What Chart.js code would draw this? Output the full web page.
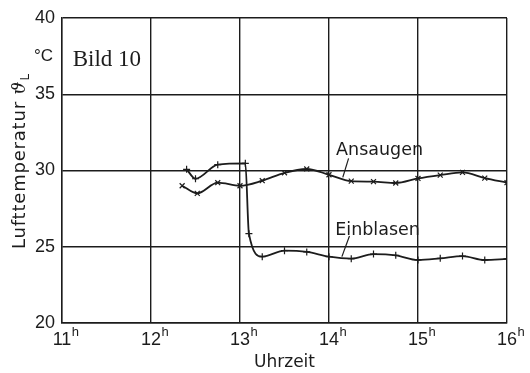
<!DOCTYPE html>
<html>
<head>
<meta charset="utf-8">
<script src="https://cdn.jsdelivr.net/npm/chart.js@4.4.0/dist/chart.umd.min.js"></script>
<style>
  html, body { margin: 0; padding: 0; background: #fff; }
  canvas { display: block; }
</style>
</head>
<body>
<canvas id="c" width="530" height="373"></canvas>
<script>
// Axis ticks
const hourTicks = [11, 12, 13, 14, 15, 16];
const tempTicks = [20, 25, 30, 35, 40];

// Intake air ("Ansaugen"), time in hours, temperature in °C
const ansaugenTime = [12.35, 12.52, 12.75, 13.0, 13.25, 13.5, 13.75, 14.0, 14.25, 14.5, 14.75, 15.0, 15.25, 15.5, 15.75, 16.0];
const ansaugenTemp = [29.0, 28.5, 29.2, 29.0, 29.33, 29.85, 30.1, 29.72, 29.3, 29.27, 29.18, 29.48, 29.7, 29.88, 29.5, 29.2];

// Supply air ("Einblasen")
const einblasenTime = [12.4, 12.5, 12.75, 13.06, 13.1, 13.25, 13.5, 13.75, 14.0, 14.25, 14.5, 14.75, 15.0, 15.25, 15.5, 15.75, 16.0];
const einblasenTemp = [30.08, 29.46, 30.38, 30.47, 25.86, 24.35, 24.74, 24.66, 24.35, 24.22, 24.52, 24.44, 24.13, 24.24, 24.39, 24.13, 24.2];

const pairs = (xs, ys) => xs.map((x, i) => ({ x: x, y: ys[i] }));

const INK = '#1c1c1c';
const SANS = '"DejaVu Sans", sans-serif';
const NUM = '"Liberation Sans", Arial, sans-serif';

// Curve captions with their leader lines, in data units (hours, °C)
const captions = [
  { text: 'Ansaugen',  t: 14.08, v: 31.02, from: [14.22, 30.80], to: [14.155, 29.55] },
  { text: 'Einblasen', t: 14.07, v: 25.77, from: [14.23, 25.70], to: [14.145, 24.35] }
];

const extras = {
  id: 'extras',
  afterDraw(chart) {
    const ctx = chart.ctx;
    const xs = chart.scales.x, ys = chart.scales.y;
    const area = chart.chartArea;
    ctx.save();
    ctx.fillStyle = INK;
    ctx.strokeStyle = INK;

    // Figure number
    ctx.font = '23px "Liberation Serif", "Times New Roman", serif';
    ctx.textAlign = 'left';
    ctx.textBaseline = 'alphabetic';
    ctx.fillText('Bild 10', xs.getPixelForValue(11.12), ys.getPixelForValue(36.85));

    // Unit beside the temperature ticks
    ctx.font = '17px ' + NUM;
    ctx.textAlign = 'right';
    ctx.textBaseline = 'middle';
    ctx.fillText('°C', area.left - 9, ys.getPixelForValue(37.5));

    // Hour superscripts on the time ticks
    ctx.font = '18px ' + NUM;
    const widths = hourTicks.map(h => ctx.measureText(String(h)).width);
    ctx.font = '13px ' + NUM;
    ctx.textAlign = 'left';
    ctx.textBaseline = 'top';
    hourTicks.forEach((h, i) => {
      ctx.fillText('h', xs.getPixelForValue(h) + widths[i] / 2 + 0.5, area.bottom + 3);
    });

    // Curve captions
    ctx.font = '17.5px ' + SANS;
    ctx.textAlign = 'left';
    ctx.textBaseline = 'alphabetic';
    ctx.lineWidth = 1.2;
    captions.forEach(c => {
      ctx.fillText(c.text, xs.getPixelForValue(c.t), ys.getPixelForValue(c.v));
      ctx.beginPath();
      ctx.moveTo(xs.getPixelForValue(c.from[0]), ys.getPixelForValue(c.from[1]));
      ctx.lineTo(xs.getPixelForValue(c.to[0]), ys.getPixelForValue(c.to[1]));
      ctx.stroke();
    });

    // Vertical axis title with subscript
    ctx.translate(25, area.bottom - 74);
    ctx.rotate(-Math.PI / 2);
    ctx.textAlign = 'left';
    ctx.textBaseline = 'alphabetic';
    if ('letterSpacing' in ctx) ctx.letterSpacing = '0.8px';
    ctx.font = '18px ' + SANS;
    const main = 'Lufttemperatur ';
    ctx.fillText(main, 0, 0);
    let w = ctx.measureText(main).width;
    ctx.font = 'italic 18px "DejaVu Serif", serif';
    ctx.fillText('ϑ', w, 0);
    w += ctx.measureText('ϑ').width;
    ctx.font = '12px ' + SANS;
    ctx.fillText('L', w + 0.5, 3.5);
    ctx.restore();
  }
};

const common = {
  borderColor: INK,
  borderWidth: 1.8,
  pointRadius: 3.5,
  pointBorderWidth: 1.2,
  pointBorderColor: INK,
  pointBackgroundColor: 'rgba(0,0,0,0)',
  fill: false,
  cubicInterpolationMode: 'monotone'
};

new Chart(document.getElementById('c'), {
  type: 'line',
  data: {
    datasets: [
      Object.assign({ label: 'Ansaugen', data: pairs(ansaugenTime, ansaugenTemp), pointStyle: 'crossRot' }, common),
      Object.assign({ label: 'Einblasen', data: pairs(einblasenTime, einblasenTemp), pointStyle: 'cross' }, common)
    ]
  },
  options: {
    responsive: false,
    animation: false,
    devicePixelRatio: 1,
    layout: { padding: { top: 18, right: 23, left: 0, bottom: 0 } },
    plugins: { legend: { display: false }, tooltip: { enabled: false } },
    scales: {
      x: {
        type: 'linear',
        min: 11, max: 16,
        afterBuildTicks: s => { s.ticks = hourTicks.map(v => ({ value: v })); },
        afterFit: s => { s.height = 50; },
        ticks: { color: INK, font: { family: NUM, size: 18 }, padding: 6, maxRotation: 0, autoSkip: false, callback: v => String(v) },
        grid: { color: INK, lineWidth: 1.4, drawTicks: false },
        border: { color: INK, width: 1.4 },
        title: { display: true, text: 'Uhrzeit', color: INK, font: { family: SANS, size: 17 }, padding: 0 }
      },
      y: {
        min: 20, max: 40,
        afterBuildTicks: s => { s.ticks = tempTicks.map(v => ({ value: v })); },
        afterFit: s => { s.width = 62; },
        ticks: { color: INK, font: { family: NUM, size: 18 }, padding: 7, callback: v => String(v) },
        grid: { color: INK, lineWidth: 1.4, drawTicks: false },
        border: { color: INK, width: 1.4 }
      }
    }
  },
  plugins: [extras]
});
</script>
</body>
</html>
